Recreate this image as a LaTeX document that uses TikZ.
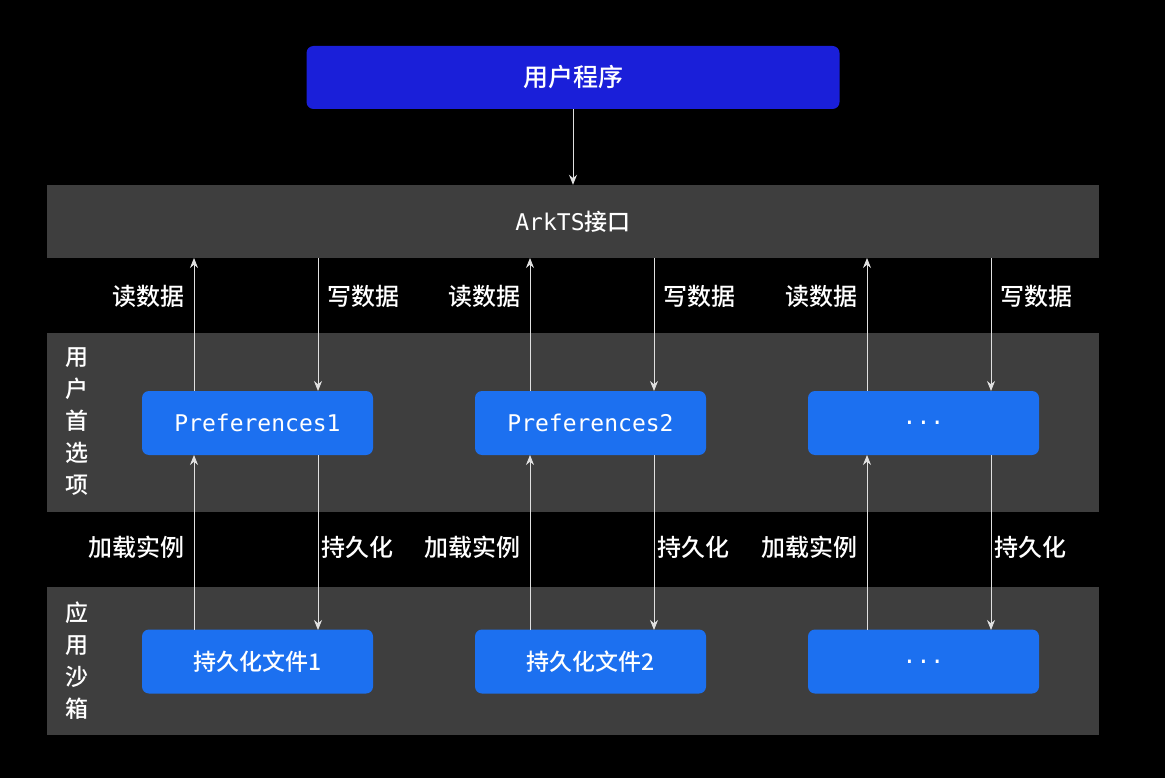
\documentclass[tikz,border=0pt]{standalone}
\usepackage{fontspec}
\setmainfont{Noto Sans CJK SC}[BoldFont={* Medium}]
\newfontfamily\monof{DejaVu Sans Mono}
\newcommand{\mt}[1]{{\monof\mdseries\fontsize{23}{26}\selectfont #1}}
\usetikzlibrary{arrows.meta}
\definecolor{band}{HTML}{3E3E3E}
\definecolor{topblue}{HTML}{1A1FD9}
\definecolor{boxblue}{HTML}{1C70F0}
\begin{document}
\begin{tikzpicture}[x=1pt,y=-1pt,
  band/.style={fill=band,draw=none},
  bbox/.style={fill=boxblue,rounded corners=7pt,minimum width=231pt,minimum height=64pt,text=white,font=\fontsize{23}{26}\selectfont\bfseries},
  arr/.style={draw=white!88!black,line width=0.9pt,-{Stealth[length=10pt,width=8pt]}},
  lab/.style={text=white,font=\fontsize{24}{26}\selectfont\bfseries},
  vlab/.style={text=white,font=\fontsize{23}{32}\selectfont\bfseries,align=center}]
\fill[black] (0,0) rectangle (1165,778);
\node[fill=topblue,rounded corners=7pt,minimum width=533pt,minimum height=63pt,text=white,font=\fontsize{25}{28}\selectfont\bfseries] (top) at (573,77.5) {用户程序};
\node[band,minimum width=1052pt,minimum height=73pt,text=white,font=\fontsize{23}{26}\selectfont\bfseries] (ark) at (573,221.5) {\mt{ArkTS}接口};
\node[band,minimum width=1052pt,minimum height=179pt] (pref) at (573,422.5) {};
\node[band,minimum width=1052pt,minimum height=148pt] (sand) at (573,661) {};
\node[vlab] (pl) at (77,422) {用\\户\\首\\选\\项};
\node[vlab] (sl) at (77,661) {应\\用\\沙\\箱};
\draw[arr] (top.south) -- (ark.north);
\foreach \i/\cx/\t/\b in {1/257.5/{\mt{Preferences1}}/持久化文件1,2/590.5/{\mt{Preferences2}}/持久化文件2,3/923.5/{\mt{...}}/{\mt{...}}}{
  \node[bbox] (p\i) at (\cx,423) {\t};
  \node[bbox] (f\i) at (\cx,661.5) {\b};
}
\foreach \i/\ux/\dx in {1/194/318,2/530/654,3/867/991}{
  \coordinate (at\i) at (\ux,258); \coordinate (ad\i) at (\dx,258);
  \draw[arr] (\ux,391) -- (at\i);
  \draw[arr] (ad\i) -- (\dx,391);
  \draw[arr] (\ux,630) -- (\ux,455);
  \draw[arr] (\dx,455) -- (\dx,630);
  \node[lab,anchor=east] (r\i) at (\ux-6,296) {读数据};
  \node[lab,anchor=west] (w\i) at (\dx+6,296) {写数据};
  \node[lab,anchor=east] (l\i) at (\ux-6,547) {加载实例};
  \node[lab,anchor=west] (c\i) at (\dx,547) {持久化};
}
\end{tikzpicture}
\end{document}
